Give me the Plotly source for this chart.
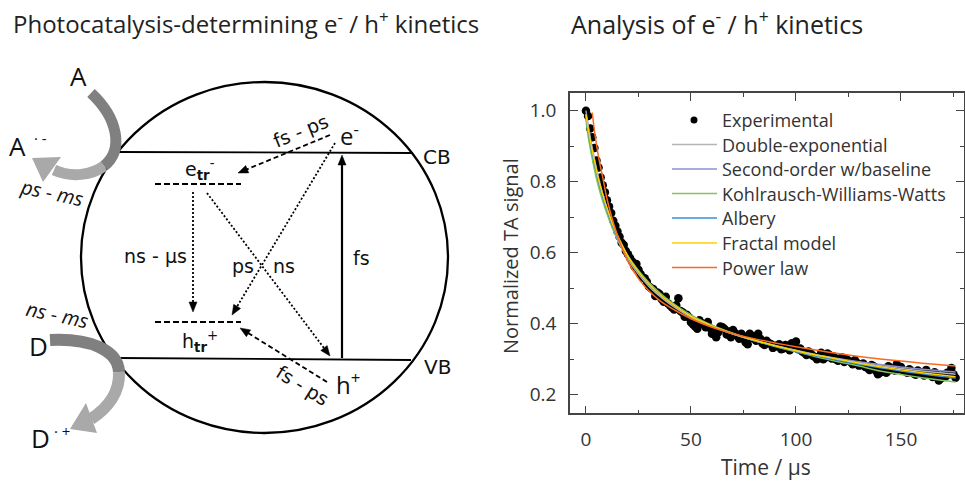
import plotly.graph_objects as go

# ---------------- chart data ----------------
t_exp = list(range(0, 177))  # sampling times, 1 us apart
sig_exp = [1.000, 0.985, 0.950, 0.925, 0.895, 0.860, 0.840, 0.812, 0.790, 0.770, 0.748,
           0.730, 0.712, 0.690, 0.676, 0.660, 0.645, 0.628, 0.622, 0.605, 0.596,
           0.585, 0.575, 0.562, 0.568, 0.552, 0.540, 0.530, 0.528, 0.518, 0.505,
           0.500, 0.498, 0.478, 0.488, 0.484, 0.470, 0.462, 0.476, 0.458, 0.452,
           0.446, 0.440, 0.452, 0.472, 0.436, 0.432, 0.420, 0.425, 0.418, 0.404,
           0.398, 0.392, 0.386, 0.410, 0.402, 0.398, 0.390, 0.405, 0.388, 0.372,
           0.382, 0.362, 0.376, 0.392, 0.390, 0.385, 0.370, 0.378, 0.362, 0.382,
           0.374, 0.366, 0.358, 0.372, 0.365, 0.348, 0.342, 0.372, 0.360, 0.365,
           0.352, 0.372, 0.358, 0.345, 0.340, 0.352, 0.346, 0.343, 0.332, 0.338,
           0.336, 0.342, 0.328, 0.330, 0.340, 0.334, 0.325, 0.345, 0.338, 0.350,
           0.328, 0.330, 0.322, 0.318, 0.312, 0.322, 0.316, 0.310, 0.306, 0.300,
           0.308, 0.318, 0.300, 0.305, 0.316, 0.312, 0.302, 0.308, 0.300, 0.296,
           0.302, 0.305, 0.292, 0.300, 0.296, 0.292, 0.286, 0.297, 0.290, 0.282,
           0.284, 0.288, 0.278, 0.276, 0.270, 0.284, 0.280, 0.268, 0.258, 0.262,
           0.266, 0.272, 0.262, 0.280, 0.270, 0.274, 0.268, 0.286, 0.272, 0.278,
           0.268, 0.266, 0.262, 0.272, 0.266, 0.260, 0.256, 0.268, 0.262, 0.262,
           0.254, 0.270, 0.262, 0.258, 0.250, 0.263, 0.258, 0.240, 0.246, 0.256,
           0.250, 0.262, 0.258, 0.275, 0.258, 0.248]

t_fit = [0, 1, 2, 3, 4, 6, 8, 10, 13, 16, 20, 25, 30, 35, 40, 50, 60, 70, 80, 90,
         100, 110, 120, 130, 140, 150, 160, 170, 176]
fit_double_exp = [0.99, 0.955, 0.92, 0.89, 0.86, 0.80, 0.755, 0.715, 0.665, 0.625, 0.582,
                  0.54, 0.505, 0.478, 0.455, 0.418, 0.392, 0.371, 0.354, 0.339, 0.325,
                  0.312, 0.301, 0.291, 0.282, 0.274, 0.267, 0.261, 0.258]
fit_second_order = [1.0, 0.96, 0.925, 0.893, 0.865, 0.81, 0.765, 0.725, 0.675, 0.635, 0.59,
                    0.545, 0.51, 0.482, 0.459, 0.421, 0.393, 0.371, 0.353, 0.338, 0.324,
                    0.312, 0.302, 0.293, 0.285, 0.278, 0.272, 0.267, 0.264]
fit_kww = [0.975, 0.93, 0.895, 0.865, 0.835, 0.785, 0.745, 0.71, 0.665, 0.63, 0.59,
           0.55, 0.516, 0.488, 0.464, 0.425, 0.396, 0.373, 0.353, 0.336, 0.321,
           0.306, 0.293, 0.281, 0.267, 0.257, 0.248, 0.240, 0.236]
fit_albery = [0.985, 0.945, 0.91, 0.88, 0.852, 0.80, 0.757, 0.72, 0.67, 0.632, 0.588,
              0.545, 0.51, 0.483, 0.46, 0.422, 0.394, 0.372, 0.353, 0.337, 0.322,
              0.309, 0.297, 0.286, 0.276, 0.267, 0.259, 0.251, 0.247]
fit_fractal = [0.99, 0.952, 0.918, 0.888, 0.86, 0.807, 0.764, 0.726, 0.676, 0.636, 0.59,
               0.546, 0.511, 0.483, 0.46, 0.421, 0.394, 0.372, 0.354, 0.338, 0.324,
               0.311, 0.30, 0.289, 0.279, 0.27, 0.262, 0.255, 0.251]
t_power = [3, 4, 5, 6, 7, 8, 10, 13, 16, 20, 25, 30, 35, 40, 50, 60, 70, 80, 90,
           100, 110, 120, 130, 140, 150, 160, 170, 176]
fit_power = [0.995, 0.945, 0.905, 0.87, 0.84, 0.812, 0.752, 0.685, 0.632, 0.575, 0.527,
             0.492, 0.466, 0.446, 0.414, 0.39, 0.372, 0.358, 0.346, 0.335, 0.325,
             0.316, 0.308, 0.301, 0.295, 0.289, 0.284, 0.281]

legend_names = ["Experimental", "Double-exponential", "Second-order w/baseline",
                "Kohlrausch-Williams-Watts", "Albery", "Fractal model", "Power law"]
fit_colors = ["#b5b5b5", "#8c90d2", "#7fc45c", "#3b8ed8", "#ffd200", "#fb6a1e"]

x_ticks = [0, 50, 100, 150]
x_minor = [25, 75, 125, 175]
y_ticks = [0.2, 0.4, 0.6, 0.8, 1.0]
y_ticklabels = ["0.2", "0.4", "0.6", "0.8", "1.0"]
y_minor = [0.3, 0.5, 0.7, 0.9]

W, H = 965, 482
FONT = "Open Sans"
DIAG_FONT = "DejaVu Sans"
TXT = "#333333"
AX = "#444444"

fig = go.Figure()
fig.add_trace(go.Scatter(x=t_exp, y=sig_exp, mode="markers",
                         marker=dict(size=8.5, color="black"), showlegend=False))
fits = [(t_fit, fit_double_exp), (t_fit, fit_second_order), (t_fit, fit_kww),
        (t_fit, fit_albery), (t_fit, fit_fractal), (t_power, fit_power)]
for (tt, vv), col, nm in zip(fits, fit_colors, legend_names[1:]):
    fig.add_trace(go.Scatter(x=tt, y=vv, mode="lines", name=nm,
                             line=dict(color=col, width=1.5, shape="spline", smoothing=0.8),
                             showlegend=False))
# invisible trace to create the full-figure overlay axes for the diagram
fig.add_trace(go.Scatter(x=[None], y=[None], xaxis="x2", yaxis="y2", showlegend=False))

shapes = []
annotations = []

def X(**kw):
    d = dict(xref="x2", yref="y2")
    d.update(kw)
    return d

# ---------------- manual legend ----------------
leg_y = [120, 144.5, 169, 193.5, 218, 243, 267.5]
shapes.append(X(type="circle", x0=690.5, x1=697.5, y0=leg_y[0] - 3.5, y1=leg_y[0] + 3.5,
                fillcolor="black", line=dict(width=0)))
for i, col in enumerate(fit_colors):
    yy = leg_y[i + 1]
    shapes.append(X(type="line", x0=672, x1=717, y0=yy, y1=yy, line=dict(color=col, width=1.6)))
for name, yy in zip(legend_names, leg_y):
    annotations.append(X(x=720, y=yy, text=name, showarrow=False, xanchor="left",
                         yanchor="middle", font=dict(family=FONT, size=18, color=TXT)))

# ---------------- titles / axis titles ----------------
annotations.append(X(x=246, y=22, text="Photocatalysis-determining e<sup>-</sup> / h<sup>+</sup> kinetics",
                     showarrow=False, xanchor="center", yanchor="middle",
                     font=dict(family=FONT, size=24, color="#222")))
annotations.append(X(x=717, y=22, text="Analysis of e<sup>-</sup> / h<sup>+</sup> kinetics",
                     showarrow=False, xanchor="center", yanchor="middle",
                     font=dict(family=FONT, size=25, color="#222")))
annotations.append(X(x=510, y=256, text="Normalized TA signal", textangle=-90,
                     showarrow=False, xanchor="center", yanchor="middle",
                     font=dict(family=FONT, size=20, color=TXT)))
annotations.append(X(x=766, y=467, text="Time / μs", showarrow=False,
                     xanchor="center", yanchor="middle",
                     font=dict(family=FONT, size=21, color=TXT)))

# ---------------- schematic ----------------
shapes.append(X(type="circle", x0=81, x1=448, y0=82, y1=433, line=dict(color="black", width=2.3)))
shapes.append(X(type="line", x0=117, y0=152, x1=413, y1=153, line=dict(color="black", width=1.8)))
shapes.append(X(type="line", x0=117, y0=358, x1=411, y1=360, line=dict(color="black", width=1.8)))
shapes.append(X(type="line", x0=155, y0=184, x1=241, y1=184, line=dict(color="black", width=1.8, dash="6px,3px")))
shapes.append(X(type="line", x0=155, y0=322, x1=241, y1=322, line=dict(color="black", width=1.8, dash="6px,3px")))


def arrow(x0, y0, x1, y1, dash, width=1.8, L=10, Wd=8):
    dx, dy = x1 - x0, y1 - y0
    n = (dx * dx + dy * dy) ** 0.5
    ux, uy = dx / n, dy / n
    bx, by = x1 - ux * L, y1 - uy * L
    px, py = -uy * Wd / 2, ux * Wd / 2
    shapes.append(X(type="line", x0=x0, y0=y0, x1=bx + ux, y1=by + uy,
                    line=dict(color="black", width=width, dash=dash)))
    shapes.append(X(type="path",
                    path=f"M {x1},{y1} L {bx + px},{by + py} L {bx - px},{by - py} Z",
                    fillcolor="black", line=dict(color="black", width=0.5)))


arrow(330, 135, 238, 173, "5px,3px")
arrow(193, 192, 193, 312, "2px,2px")
arrow(207, 193, 330, 356, "2px,2px")
arrow(335, 143, 232, 315, "2px,2px")
arrow(342, 358, 342, 155, "solid", width=2.2)
arrow(327, 382, 240, 328, "5px,3px")

# gray curved arrows (A and D)
DARK, LIGHT = "#808080", "#a9a9a9"
shapes.append(X(type="path", path="M 91,93 C 118,118 124,150 104,166",
                line=dict(color=DARK, width=11)))
shapes.append(X(type="path", path="M 104,166 C 92,175 72,178 54,170",
                line=dict(color=LIGHT, width=11)))
shapes.append(X(type="path", path="M 32,158 L 61,157 L 43,182 Z",
                fillcolor=LIGHT, line=dict(width=0)))
shapes.append(X(type="path", path="M 50,340 C 90,338 118,350 119,372",
                line=dict(color=DARK, width=12)))
shapes.append(X(type="path", path="M 119,372 C 120,392 108,408 91,419",
                line=dict(color=LIGHT, width=12)))
shapes.append(X(type="path", path="M 70,429 L 86,403 L 97,433 Z",
                fillcolor=LIGHT, line=dict(width=0)))


def lab(x, y, text, size=17, family=DIAG_FONT, angle=0, anchor="center", color="#111"):
    annotations.append(X(x=x, y=y, text=text, showarrow=False, xanchor=anchor,
                         yanchor="middle", textangle=angle,
                         font=dict(family=family, size=size, color=color)))


lab(437, 157, "CB", 20)
lab(437, 367, "VB", 20)
lab(349, 134, "e<sup>-</sup>", 24, FONT)
lab(348, 383, "h<sup>+</sup>", 24, FONT)
lab(300, 131, "fs - ps", 19, angle=-22)
lab(302, 385, "fs - ps", 19, angle=32)
lab(200, 169, "e<sub><b>tr</b></sub><sup>-</sup>", 19)
lab(200, 341, "h<sub><b>tr</b></sub><sup>+</sup>", 19)
lab(155, 256, "ns - μs", 19)
lab(243, 266, "ps", 19)
lab(284, 266, "ns", 19)
lab(361, 258, "fs", 19)
lab(78, 76, "A", 26, FONT)
lab(7, 146, "A", 26, FONT, anchor="left")
lab(32, 138, "· -", 15, FONT, anchor="left")
lab(52, 192, "<i>ps - ms</i>", 20, FONT, angle=12)
lab(57, 314, "<i>ns - ms</i>", 20, FONT, angle=12)
lab(38, 346, "D", 26, FONT)
lab(29, 438, "D", 26, FONT, anchor="left")
lab(52, 431, "· +", 15, FONT, anchor="left")

axis_common = dict(showline=True, linecolor=AX, linewidth=1.5, mirror="allticks",
                   ticks="inside", ticklen=8, tickwidth=1.3, tickcolor=AX,
                   showgrid=False, zeroline=False,
                   tickfont=dict(family=FONT, size=19, color=TXT))

fig.update_layout(
    width=W, height=H,
    margin=dict(l=0, r=0, t=0, b=0),
    paper_bgcolor="white", plot_bgcolor="rgba(0,0,0,0)",
    showlegend=False,
    xaxis=dict(domain=[570 / W, 964 / W], range=[-7.6, 180.0], tickvals=x_ticks,
               minor=dict(ticks="inside", ticklen=4, tickvals=x_minor, tickcolor=AX, tickwidth=1.2),
               ticklabelstandoff=8, anchor="y", **axis_common),
    yaxis=dict(domain=[1 - 413.3 / H, 1 - 93 / H], range=[0.1477, 1.0499],
               tickvals=y_ticks, ticktext=y_ticklabels,
               minor=dict(ticks="inside", ticklen=4, tickvals=y_minor, tickcolor=AX, tickwidth=1.2),
               ticklabelstandoff=8, anchor="x", **axis_common),
    xaxis2=dict(domain=[0, 1], range=[0, W], visible=False, anchor="y2", fixedrange=True),
    yaxis2=dict(domain=[0, 1], range=[H, 0], visible=False, anchor="x2", fixedrange=True),
    shapes=shapes,
    annotations=annotations,
)

fig.write_html("out.html")
